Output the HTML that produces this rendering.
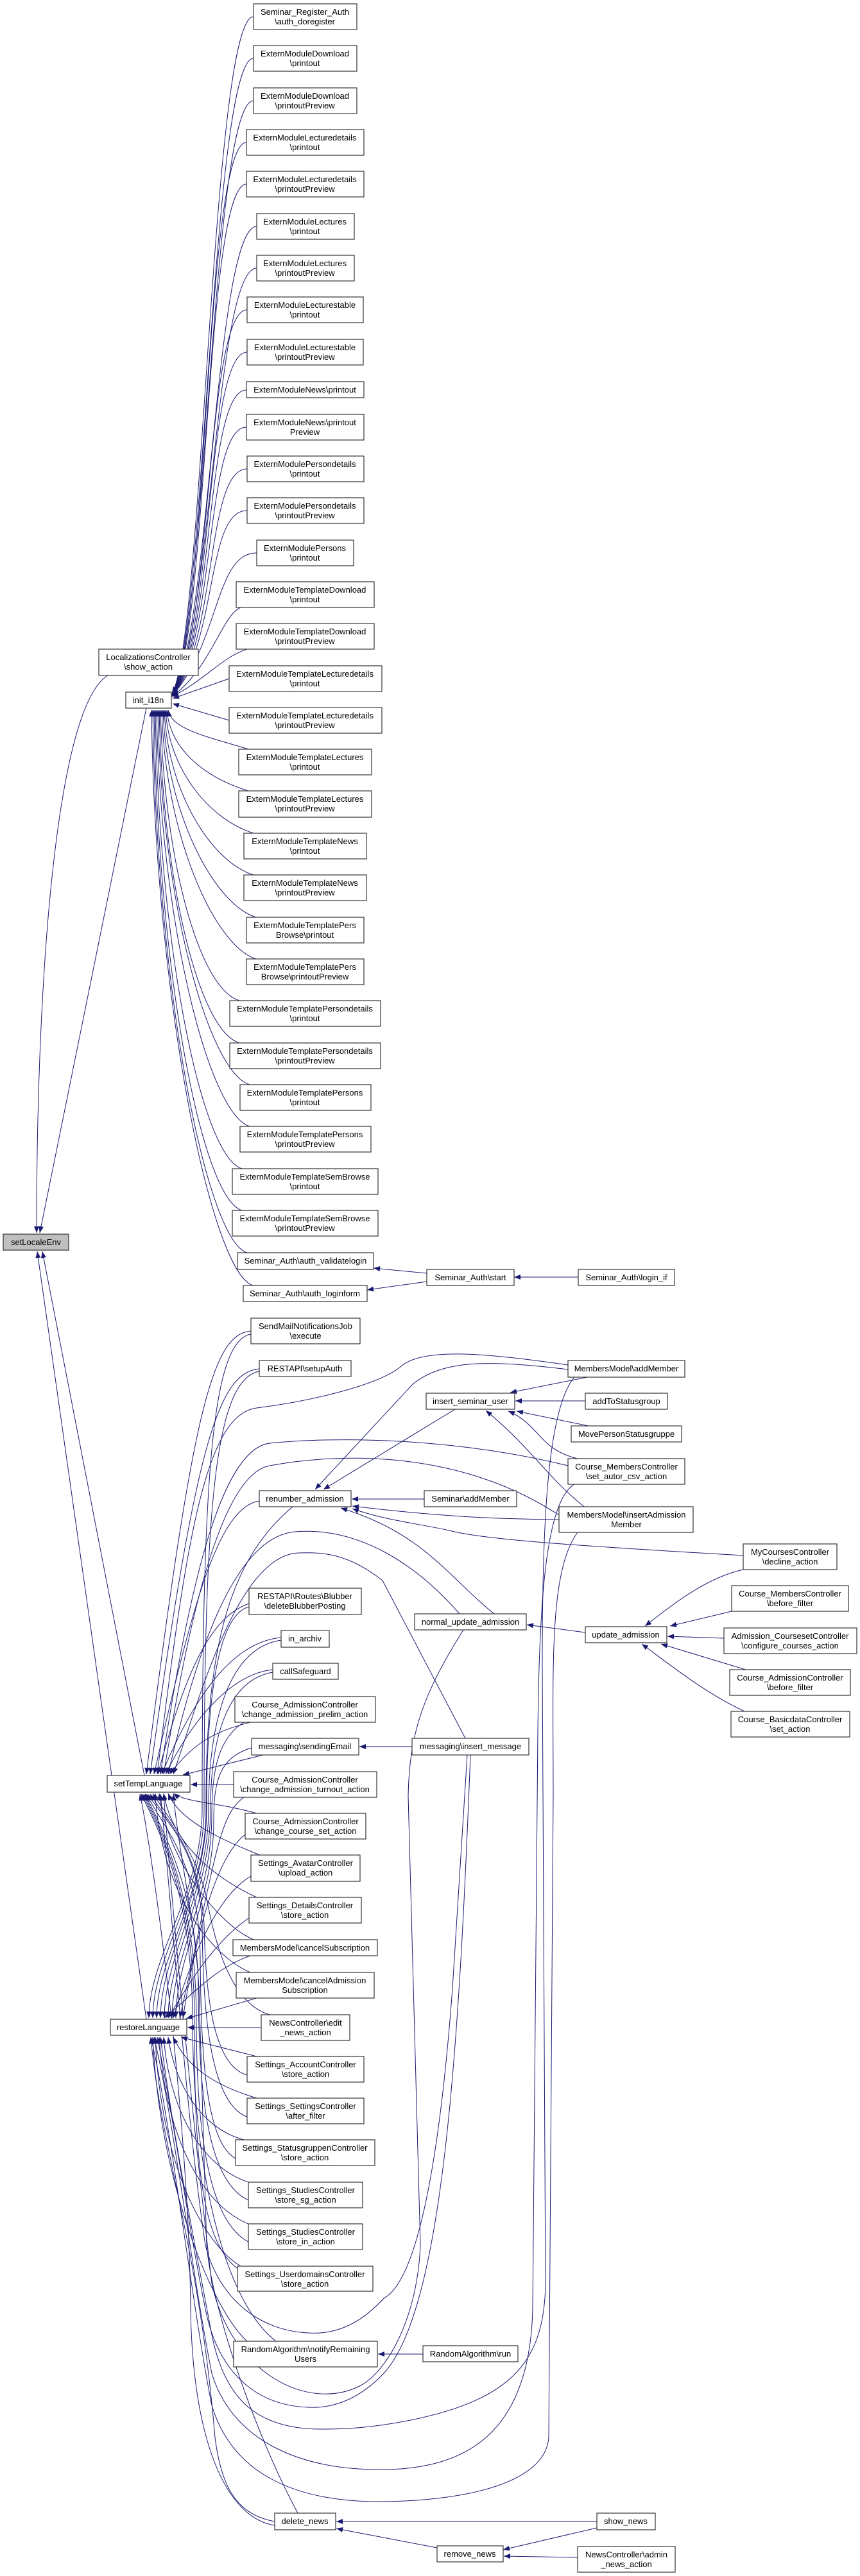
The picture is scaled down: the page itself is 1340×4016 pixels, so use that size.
<!DOCTYPE html>
<html><head><meta charset="utf-8"><style>
html,body{margin:0;padding:0;background:#fff}
svg{display:block}
text{font-family:"Liberation Sans",Arial,sans-serif;font-size:13px;fill:#000;text-anchor:middle}
.n rect{fill:#fff;stroke:#333;stroke-width:1.2}
.e path{fill:none;stroke:#191970;stroke-width:1;marker-end:url(#a)}
</style></head><body>
<svg width="1340" height="4016" viewBox="0 0 1340 4016" xmlns="http://www.w3.org/2000/svg">
<defs><marker id="a" viewBox="0 0 10 8" refX="10" refY="4" markerWidth="11" markerHeight="8" orient="auto" markerUnits="userSpaceOnUse"><path d="M0,0 L10,4 L0,8 z" fill="#191970"/></marker></defs>
<g class="e">
<!-- to setLocaleEnv -->
<path d="M168,1053 C90,1100 57,1500 57,1922"/>
<path d="M228,1104 L62,1922"/>
<path d="M225,2768 L66,1951"/>
<path d="M228,3148 L58,1951"/>
<!-- upper extern -> init_i18n -->
<path d="M395,26 C330,26 317,1000 268,1081"/>
<path d="M395,91 C330,91 319,1000 268,1081"/>
<path d="M395,157 C330,157 321,1000 268,1082"/>
<path d="M384,222 C319,222 323,1000 268,1082"/>
<path d="M384,287 C319,287 325,1000 268,1082"/>
<path d="M400,353 C335,353 327,1000 268,1083"/>
<path d="M400,418 C335,418 329,1000 268,1083"/>
<path d="M385,483 C320,483 331,1000 268,1083"/>
<path d="M385,549 C320,549 333,1000 268,1084"/>
<path d="M384,608 C319,608 335,1000 268,1084"/>
<path d="M384,666 C319,666 337,1000 268,1084"/>
<path d="M385,731 C320,731 339,1000 268,1085"/>
<path d="M385,796 C320,796 341,1000 268,1085"/>
<path d="M400,862 C335,862 343,1000 268,1085"/>
<path d="M375,947 C345,960 330,1040 268,1086"/>
<path d="M385,1012 C345,1025 320,1060 268,1086"/>
<path d="M357,1058 L269,1089"/>
<path d="M357,1123 L269,1097"/>
<!-- lower extern -> init_i18n -->
<path d="M387,1168 C322,1148 267,1137 262,1107"/>
<path d="M387,1233 C322,1213 265,1170 260,1107"/>
<path d="M395,1299 C330,1279 263,1203 258,1107"/>
<path d="M395,1364 C330,1344 261,1235 256,1107"/>
<path d="M399,1430 C334,1410 259,1268 254,1107"/>
<path d="M399,1495 C334,1475 257,1301 252,1107"/>
<path d="M373,1560 C308,1540 255,1333 250,1107"/>
<path d="M373,1626 C308,1606 253,1366 248,1107"/>
<path d="M389,1691 C324,1671 251,1399 246,1107"/>
<path d="M389,1756 C324,1736 249,1431 244,1107"/>
<path d="M377,1822 C312,1802 247,1464 242,1107"/>
<path d="M377,1887 C312,1867 245,1497 240,1107"/>
<path d="M385,1953 C320,1933 243,1530 238,1107"/>
<path d="M394,2004 C329,1984 241,1555 236,1107"/>
<!-- Seminar_Auth -->
<path d="M665,1985 L582,1977"/>
<path d="M665,1998 L572,2011"/>
<path d="M901,1991 L801,1991"/>
<!-- lower nodes above setTempLanguage -->
<path d="M391,2075 C330,2080 300,2200 228,2766"/>
<path d="M391,2080 C330,2090 315,2300 315,2820 C315,2950 232,3050 232,3146"/>
<path d="M404,2134 C340,2140 305,2250 234,2766"/>
<path d="M404,2138 C335,2150 318,2350 318,2820 C318,2950 238,3050 238,3146"/>
<path d="M404,2340 C340,2350 300,2500 240,2766"/>
<path d="M456,2349 C360,2430 320,2560 321,2820 C322,2950 244,3050 244,3146"/>
<path d="M388,2500 C330,2520 290,2600 246,2766"/>
<path d="M388,2505 C330,2520 322,2700 322,2820 C322,2950 250,3050 250,3146"/>
<path d="M438,2553 C360,2560 300,2650 252,2766"/>
<path d="M438,2557 C350,2570 325,2700 325,2820 C325,2950 256,3050 256,3146"/>
<path d="M425,2603 C360,2610 300,2680 258,2766"/>
<path d="M425,2607 C350,2620 328,2720 328,2820 C328,2950 262,3050 262,3146"/>
<path d="M390,2685 C330,2700 300,2720 264,2766"/>
<path d="M380,2685 C340,2710 330,2760 330,2830 C330,2960 268,3050 268,3146"/>
<path d="M410,2736 L285,2767"/>
<path d="M392,2725 C340,2740 333,2780 333,2840 C333,2960 274,3050 274,3146"/>
<path d="M364,2782 L297,2782"/>
<path d="M380,2802 C340,2830 336,2900 280,3146"/>
<!-- between -->
<path d="M400,2827 C340,2810 290,2810 270,2796"/>
<path d="M382,2860 C330,2900 300,3050 285,3146"/>
<path d="M405,2892 C350,2870 280,2840 262,2796"/>
<path d="M391,2925 C330,2960 290,3080 270,3146"/>
<path d="M400,2958 C340,2930 270,2880 255,2796"/>
<path d="M388,2990 C330,3030 290,3100 262,3146"/>
<path d="M395,3024 C340,3000 260,2900 248,2796"/>
<path d="M390,3049 C330,3070 290,3120 256,3146"/>
<path d="M390,3075 C330,3050 250,2950 242,2796"/>
<path d="M400,3115 L290,3147"/>
<path d="M407,3161 L292,3161"/>
<path d="M420,3141 C350,3120 330,3000 320,2950 C300,2880 260,2830 238,2796"/>
<!-- below restoreLanguage -->
<path d="M400,3206 L282,3176"/>
<path d="M385,3235 C330,3220 320,3100 318,3000 C310,2880 260,2840 234,2797"/>
<path d="M400,3271 C330,3250 290,3220 270,3176"/>
<path d="M385,3300 C330,3280 316,3150 315,3000 C310,2880 258,2840 230,2797"/>
<path d="M380,3336 C320,3320 275,3260 262,3176"/>
<path d="M367,3365 C320,3340 313,3200 312,3050 C310,2900 255,2850 228,2797"/>
<path d="M387,3402 C320,3380 265,3300 255,3176"/>
<path d="M387,3430 C320,3400 310,3250 309,3100 C308,2950 252,2850 226,2797"/>
<path d="M387,3467 C320,3440 258,3340 248,3176"/>
<path d="M387,3495 C320,3460 306,3300 306,3150 C306,2950 250,2850 224,2797"/>
<path d="M375,3533 C320,3500 250,3380 242,3176"/>
<path d="M375,3540 C310,3500 303,3350 303,3150 C303,2950 248,2850 222,2797"/>
<path d="M385,3650 C330,3600 248,3400 238,3176"/>
<path d="M430,3650 C340,3580 300,3350 300,3150 C300,2950 246,2850 220,2797"/>
<path d="M428,3931 C370,3920 345,3880 335,3800 C310,3500 250,3350 235,3176"/>
<path d="M428,3937 C350,3925 300,3800 297,3600 C294,3300 240,2900 218,2797"/>
<path d="M464,3918 C400,3800 330,3600 322,3500 L310,3100 C305,3000 280,2900 270,2797"/>
<!-- right side -->
<path d="M885,2128 C760,2110 660,2100 625,2130 C590,2160 480,2185 400,2195 C320,2205 290,2400 245,2766"/>
<path d="M885,2285 C700,2240 520,2240 420,2250 C340,2260 290,2500 250,2766"/>
<path d="M871,2362 C700,2250 500,2270 420,2285 C340,2300 290,2550 255,2766"/>
<path d="M716,2516 C650,2440 560,2380 460,2388 C360,2396 300,2600 262,2766"/>
<path d="M725,2710 L596,2464 C540,2420 500,2420 465,2421 C370,2425 310,2650 270,2766"/>
<path d="M1158,2425 C900,2410 750,2400 700,2386 C650,2375 600,2370 549,2352"/>
<path d="M871,2369 C780,2368 700,2366 549,2348"/>
<path d="M770,2516 C700,2460 660,2390 531,2351"/>
<path d="M661,2337 L548,2337"/>
<path d="M885,2135 C760,2120 690,2120 643,2158 L491,2322"/>
<path d="M709,2197 L504,2322"/>
<path d="M915,2147 L795,2171"/>
<path d="M912,2184 L803,2184"/>
<path d="M917,2223 L805,2200"/>
<path d="M900,2274 C840,2260 840,2220 792,2200"/>
<path d="M910,2349 C850,2300 830,2260 757,2199"/>
<path d="M912,2545 L821,2533"/>
<path d="M1158,2447 C1100,2460 1050,2500 1005,2535"/>
<path d="M1140,2512 L1044,2535"/>
<path d="M1128,2554 L1040,2551"/>
<path d="M1162,2603 L1030,2563"/>
<path d="M1160,2668 C1100,2640 1050,2600 1000,2563"/>
<path d="M642,2723 L560,2723"/>
<path d="M659,3670 L589,3670"/>
<path d="M930,3931 L524,3931"/>
<path d="M930,3941 L784,3975"/>
<path d="M900,3987 L785,3985"/>
<path d="M681,3972 L524,3942"/>
<!-- bottom loops -->
<path d="M728,2736 L705,3100 C690,3300 660,3550 598,3583 C560,3625 520,3640 480,3637 C400,3633 340,3580 320,3500 C290,3300 270,3000 250,2797"/>
<path d="M733,2736 C715,3200 690,3600 598,3700 C560,3740 520,3755 480,3753 C400,3750 340,3700 320,3600 C290,3450 270,3300 245,3176"/>
<path d="M722,2541 C660,2640 638,2700 636,2800 L655,3500 C650,3620 600,3700 560,3720 C480,3760 360,3700 330,3560 C300,3300 270,3000 255,2797"/>
<path d="M895,2147 C850,2200 845,2400 845,2600 L850,3560 C848,3680 800,3740 640,3773 C580,3785 540,3787 500,3787 C400,3787 350,3740 330,3640 C300,3480 270,3330 250,3176"/>
<path d="M895,2314 C850,2340 840,2500 838,2700 L830,3600 C825,3800 720,3848 600,3850 C460,3852 360,3800 330,3700 C300,3550 270,3300 240,3176"/>
<path d="M900,2389 C855,2450 862,2600 862,2800 L855,3800 C850,3870 730,3898 600,3900 C450,3902 360,3850 330,3750 C300,3600 265,3300 235,3176"/>
</g>
<g class="n">
<rect x="5" y="1924" width="102" height="25" style="fill:#bfbfbf"/><text x="56" y="1941">setLocaleEnv</text>
<rect x="154" y="1012" width="155" height="41"/><text x="231" y="1029">LocalizationsController</text><text x="231" y="1044">\show_action</text>
<rect x="196" y="1079" width="71" height="25"/><text x="231" y="1096">init_i18n</text>
<rect x="167" y="2768" width="129" height="26"/><text x="231" y="2785">setTempLanguage</text>
<rect x="172" y="3148" width="119" height="25"/><text x="231" y="3165">restoreLanguage</text>

<rect x="395" y="6" width="161" height="40"/><text x="475" y="23">Seminar_Register_Auth</text><text x="475" y="38">\auth_doregister</text>
<rect x="395" y="71" width="161" height="40"/><text x="475" y="88">ExternModuleDownload</text><text x="475" y="103">\printout</text>
<rect x="395" y="137" width="161" height="40"/><text x="475" y="154">ExternModuleDownload</text><text x="475" y="169">\printoutPreview</text>
<rect x="384" y="202" width="183" height="40"/><text x="475" y="219">ExternModuleLecturedetails</text><text x="475" y="234">\printout</text>
<rect x="384" y="267" width="183" height="40"/><text x="475" y="284">ExternModuleLecturedetails</text><text x="475" y="299">\printoutPreview</text>
<rect x="400" y="333" width="152" height="40"/><text x="475" y="350">ExternModuleLectures</text><text x="475" y="365">\printout</text>
<rect x="400" y="398" width="152" height="40"/><text x="475" y="415">ExternModuleLectures</text><text x="475" y="430">\printoutPreview</text>
<rect x="385" y="463" width="181" height="40"/><text x="475" y="480">ExternModuleLecturestable</text><text x="475" y="495">\printout</text>
<rect x="385" y="529" width="181" height="40"/><text x="475" y="546">ExternModuleLecturestable</text><text x="475" y="561">\printoutPreview</text>
<rect x="384" y="595" width="183" height="25"/><text x="475" y="612">ExternModuleNews\printout</text>
<rect x="384" y="646" width="183" height="40"/><text x="475" y="663">ExternModuleNews\printout</text><text x="475" y="678">Preview</text>
<rect x="385" y="711" width="182" height="40"/><text x="475" y="728">ExternModulePersondetails</text><text x="475" y="743">\printout</text>
<rect x="385" y="776" width="182" height="40"/><text x="475" y="793">ExternModulePersondetails</text><text x="475" y="808">\printoutPreview</text>
<rect x="400" y="842" width="151" height="40"/><text x="475" y="859">ExternModulePersons</text><text x="475" y="874">\printout</text>
<rect x="368" y="907" width="215" height="40"/><text x="475" y="924">ExternModuleTemplateDownload</text><text x="475" y="939">\printout</text>
<rect x="368" y="972" width="215" height="40"/><text x="475" y="989">ExternModuleTemplateDownload</text><text x="475" y="1004">\printoutPreview</text>
<rect x="357" y="1038" width="238" height="40"/><text x="475" y="1055">ExternModuleTemplateLecturedetails</text><text x="475" y="1070">\printout</text>
<rect x="357" y="1103" width="238" height="40"/><text x="475" y="1120">ExternModuleTemplateLecturedetails</text><text x="475" y="1135">\printoutPreview</text>
<rect x="372" y="1168" width="207" height="40"/><text x="475" y="1185">ExternModuleTemplateLectures</text><text x="475" y="1200">\printout</text>
<rect x="372" y="1233" width="207" height="41"/><text x="475" y="1250">ExternModuleTemplateLectures</text><text x="475" y="1265">\printoutPreview</text>
<rect x="380" y="1299" width="191" height="40"/><text x="475" y="1316">ExternModuleTemplateNews</text><text x="475" y="1331">\printout</text>
<rect x="380" y="1364" width="191" height="40"/><text x="475" y="1381">ExternModuleTemplateNews</text><text x="475" y="1396">\printoutPreview</text>
<rect x="384" y="1430" width="183" height="40"/><text x="475" y="1447">ExternModuleTemplatePers</text><text x="475" y="1462">Browse\printout</text>
<rect x="384" y="1495" width="183" height="40"/><text x="475" y="1512">ExternModuleTemplatePers</text><text x="475" y="1527">Browse\printoutPreview</text>
<rect x="358" y="1560" width="235" height="40"/><text x="475" y="1577">ExternModuleTemplatePersondetails</text><text x="475" y="1592">\printout</text>
<rect x="358" y="1626" width="235" height="40"/><text x="475" y="1643">ExternModuleTemplatePersondetails</text><text x="475" y="1658">\printoutPreview</text>
<rect x="374" y="1691" width="204" height="40"/><text x="475" y="1708">ExternModuleTemplatePersons</text><text x="475" y="1723">\printout</text>
<rect x="374" y="1756" width="204" height="40"/><text x="475" y="1773">ExternModuleTemplatePersons</text><text x="475" y="1788">\printoutPreview</text>
<rect x="362" y="1822" width="227" height="40"/><text x="475" y="1839">ExternModuleTemplateSemBrowse</text><text x="475" y="1854">\printout</text>
<rect x="362" y="1887" width="227" height="40"/><text x="475" y="1904">ExternModuleTemplateSemBrowse</text><text x="475" y="1919">\printoutPreview</text>
<rect x="370" y="1953" width="212" height="26"/><text x="476" y="1970">Seminar_Auth\auth_validatelogin</text>
<rect x="379" y="2004" width="193" height="25"/><text x="475" y="2021">Seminar_Auth\auth_loginform</text>

<rect x="391" y="2055" width="170" height="40"/><text x="476" y="2072">SendMailNotificationsJob</text><text x="476" y="2087">\execute</text>
<rect x="404" y="2121" width="143" height="25"/><text x="475" y="2138">RESTAPI\setupAuth</text>
<rect x="404" y="2324" width="143" height="25"/><text x="475" y="2341">renumber_admission</text>
<rect x="388" y="2476" width="175" height="41"/><text x="475" y="2493">RESTAPI\Routes\Blubber</text><text x="475" y="2508">\deleteBlubberPosting</text>
<rect x="438" y="2542" width="75" height="26"/><text x="475" y="2559">in_archiv</text>
<rect x="425" y="2593" width="102" height="25"/><text x="476" y="2610">callSafeguard</text>
<rect x="366" y="2645" width="219" height="40"/><text x="475" y="2662">Course_AdmissionController</text><text x="475" y="2677">\change_admission_prelim_action</text>
<rect x="392" y="2710" width="167" height="26"/><text x="475" y="2727">messaging\sendingEmail</text>
<rect x="364" y="2762" width="223" height="40"/><text x="475" y="2779">Course_AdmissionController</text><text x="475" y="2794">\change_admission_turnout_action</text>
<rect x="382" y="2827" width="188" height="40"/><text x="476" y="2844">Course_AdmissionController</text><text x="476" y="2859">\change_course_set_action</text>
<rect x="391" y="2892" width="170" height="41"/><text x="476" y="2909">Settings_AvatarController</text><text x="476" y="2924">\upload_action</text>
<rect x="388" y="2958" width="175" height="40"/><text x="475" y="2975">Settings_DetailsController</text><text x="475" y="2990">\store_action</text>
<rect x="363" y="3024" width="225" height="25"/><text x="475" y="3041">MembersModel\cancelSubscription</text>
<rect x="368" y="3075" width="215" height="40"/><text x="475" y="3092">MembersModel\cancelAdmission</text><text x="475" y="3107">Subscription</text>
<rect x="407" y="3141" width="138" height="40"/><text x="476" y="3158">NewsController\edit</text><text x="476" y="3173">_news_action</text>
<rect x="385" y="3206" width="182" height="40"/><text x="476" y="3223">Settings_AccountController</text><text x="476" y="3238">\store_action</text>
<rect x="385" y="3271" width="182" height="40"/><text x="476" y="3288">Settings_SettingsController</text><text x="476" y="3303">\after_filter</text>
<rect x="367" y="3336" width="217" height="40"/><text x="475" y="3353">Settings_StatusgruppenController</text><text x="475" y="3368">\store_action</text>
<rect x="387" y="3402" width="178" height="40"/><text x="476" y="3419">Settings_StudiesController</text><text x="476" y="3434">\store_sg_action</text>
<rect x="387" y="3467" width="178" height="40"/><text x="476" y="3484">Settings_StudiesController</text><text x="476" y="3499">\store_in_action</text>
<rect x="370" y="3533" width="211" height="39"/><text x="475" y="3550">Settings_UserdomainsController</text><text x="475" y="3565">\store_action</text>
<rect x="364" y="3650" width="224" height="40"/><text x="476" y="3667">RandomAlgorithm\notifyRemaining</text><text x="476" y="3682">Users</text>
<rect x="428" y="3918" width="95" height="26"/><text x="475" y="3935">delete_news</text>

<rect x="665" y="1979" width="136" height="25"/><text x="733" y="1996">Seminar_Auth\start</text>
<rect x="901" y="1979" width="150" height="25"/><text x="976" y="1996">Seminar_Auth\login_if</text>
<rect x="885" y="2121" width="182" height="26"/><text x="976" y="2138">MembersModel\addMember</text>
<rect x="664" y="2172" width="138" height="25"/><text x="733" y="2189">insert_seminar_user</text>
<rect x="912" y="2172" width="128" height="25"/><text x="976" y="2189">addToStatusgroup</text>
<rect x="890" y="2223" width="172" height="25"/><text x="976" y="2240">MovePersonStatusgruppe</text>
<rect x="885" y="2274" width="182" height="40"/><text x="976" y="2291">Course_MembersController</text><text x="976" y="2306">\set_autor_csv_action</text>
<rect x="661" y="2324" width="144" height="25"/><text x="733" y="2341">Seminar\addMember</text>
<rect x="871" y="2349" width="209" height="40"/><text x="976" y="2366">MembersModel\insertAdmission</text><text x="976" y="2381">Member</text>
<rect x="646" y="2516" width="174" height="25"/><text x="733" y="2533">normal_update_admission</text>
<rect x="642" y="2710" width="182" height="26"/><text x="733" y="2727">messaging\insert_message</text>
<rect x="912" y="2536" width="127" height="25"/><text x="975" y="2553">update_admission</text>
<rect x="1158" y="2407" width="146" height="40"/><text x="1231" y="2424">MyCoursesController</text><text x="1231" y="2439">\decline_action</text>
<rect x="1140" y="2472" width="182" height="40"/><text x="1231" y="2489">Course_MembersController</text><text x="1231" y="2504">\before_filter</text>
<rect x="1128" y="2538" width="207" height="40"/><text x="1231" y="2555">Admission_CoursesetController</text><text x="1231" y="2570">\configure_courses_action</text>
<rect x="1137" y="2603" width="188" height="40"/><text x="1231" y="2620">Course_AdmissionController</text><text x="1231" y="2635">\before_filter</text>
<rect x="1139" y="2668" width="185" height="40"/><text x="1231" y="2685">Course_BasicdataController</text><text x="1231" y="2700">\set_action</text>
<rect x="659" y="3657" width="148" height="25"/><text x="733" y="3674">RandomAlgorithm\run</text>
<rect x="681" y="3969" width="103" height="25"/><text x="732" y="3986">remove_news</text>
<rect x="930" y="3918" width="91" height="26"/><text x="975" y="3935">show_news</text>
<rect x="900" y="3970" width="152" height="40"/><text x="976" y="3987">NewsController\admin</text><text x="976" y="4002">_news_action</text>
</g>
</svg>
</body></html>
